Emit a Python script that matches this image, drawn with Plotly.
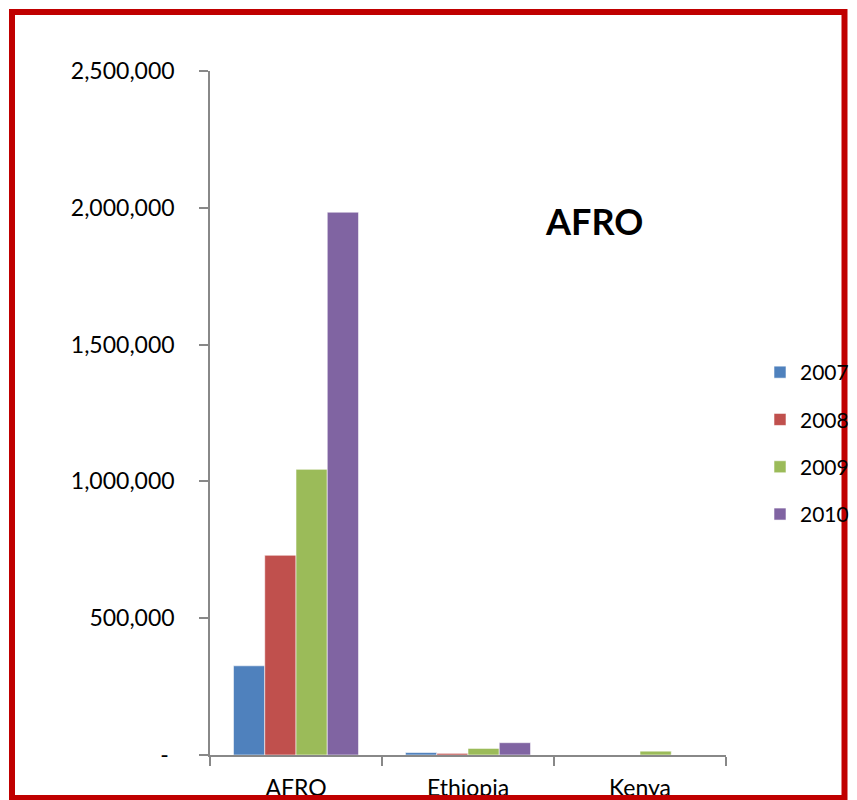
import plotly.graph_objects as go

categories = ["AFRO", "Ethiopia", "Kenya"]
years = ["2007", "2008", "2009", "2010"]
v2007 = [326000, 9000, 0]
v2008 = [730000, 6000, 0]
v2009 = [1044000, 24000, 14000]
v2010 = [1984000, 45000, 0]
series = [v2007, v2008, v2009, v2010]
colors = ["#4F81BD", "#C0504D", "#9BBB59", "#8064A2"]

y_tickvals = [0, 500000, 1000000, 1500000, 2000000, 2500000]
y_ticktext = ["-\u00a0", "500,000", "1,000,000", "1,500,000", "2,000,000", "2,500,000"]

W, H = 857, 800
L, R, T, B = 210, 131, 71, 45
pw, ph = W - L - R, H - T - B

def px_x(x):
    return (x - L) / pw

def px_y(y):
    return (H - B - y) / ph

fig = go.Figure()
for yr, vals, col in zip(years, series, colors):
    fig.add_trace(go.Bar(
        x=categories, y=vals, name=yr, legendgroup=yr,
        marker=dict(color=col, line=dict(color="rgba(255,255,255,0.7)", width=0.8)),
    ))

axis_col = "#888888"
fs = 23
fig.update_layout(
    width=W, height=H,
    margin=dict(l=L, r=R, t=T, b=B, pad=0, autoexpand=False),
    paper_bgcolor="white", plot_bgcolor="white",
    barmode="group", bargap=0.273, bargroupgap=0,
    font=dict(family="Lato", size=fs, color="black"),
    showlegend=True,
    legend=dict(x=px_x(760), y=px_y(352), xanchor="left", yanchor="top",
                tracegroupgap=17, font=dict(family="Lato", size=21, color="black"),
                bgcolor="rgba(0,0,0,0)"),
    xaxis=dict(showline=True, linecolor=axis_col, linewidth=1.5, ticks="outside",
               tickson="boundaries", ticklen=9, tickcolor=axis_col, tickwidth=1.5,
               showgrid=False, ticklabelstandoff=12, automargin=False, fixedrange=True),
    yaxis=dict(range=[0, 2500000], showline=True, linecolor=axis_col, linewidth=1.5,
               ticks="outside", ticklen=9, tickcolor=axis_col, tickwidth=1.5,
               showgrid=False, zeroline=False, tickvals=y_tickvals, ticktext=y_ticktext,
               ticklabelstandoff=20, automargin=False, fixedrange=True),
    annotations=[dict(text="<b>AFRO</b>", x=px_x(594), y=px_y(221), xref="paper", yref="paper",
                      showarrow=False, font=dict(family="Lato", size=36, color="black"),
                      xanchor="center", yanchor="middle")],
    shapes=[dict(type="rect", xref="paper", yref="paper",
                 x0=px_x(12), x1=px_x(844.5), y0=px_y(798), y1=px_y(12),
                 line=dict(color="#C00000", width=6), fillcolor="rgba(0,0,0,0)", layer="above")],
)

fig.write_html("out.html")
